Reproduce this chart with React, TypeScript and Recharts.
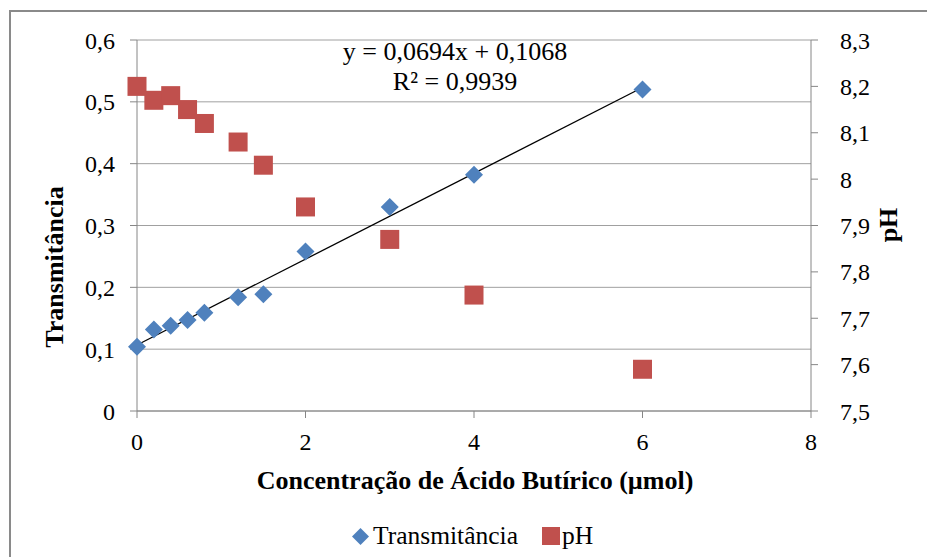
import React from 'react';
import { ScatterChart, Scatter, XAxis, YAxis, CartesianGrid, Legend, ReferenceLine } from 'recharts';

// concentração de ácido butírico (µmol)
const concentracao = [0, 0.2, 0.4, 0.6, 0.8, 1.2, 1.5, 2, 3, 4, 6];
const transmitancia = [0.104, 0.132, 0.138, 0.147, 0.159, 0.184, 0.189, 0.258, 0.33, 0.382, 0.52];
const ph = [8.2, 8.17, 8.18, 8.15, 8.12, 8.08, 8.03, 7.94, 7.87, 7.75, 7.59];

const xTicks = [0, 2, 4, 6, 8];
const leftTicks = [0, 0.1, 0.2, 0.3, 0.4, 0.5, 0.6];
const rightTicks = [7.5, 7.6, 7.7, 7.8, 7.9, 8, 8.1, 8.2, 8.3];

// linear trendline (Excel)
const slope = 0.0694;
const intercept = 0.1068;
const trendFrom = 0;
const trendTo = 6;

const BLUE = '#4f81bd';
const RED = '#c0504d';
const AXIS = '#868686';
const GRID = '#a0a0a0';
const FONT = '"Liberation Serif", "Times New Roman", serif';

const transData = concentracao.map((x, i) => ({ x, y: transmitancia[i] }));
const phData = concentracao.map((x, i) => ({ x, y: ph[i] }));

const fmt = (v: number) => String(Math.round(v * 10) / 10).replace('.', ',');

const Diamond = (props: any) => {
  const { cx, cy } = props;
  const r = 9;
  return <polygon points={`${cx},${cy - r} ${cx + r},${cy} ${cx},${cy + r} ${cx - r},${cy}`} fill={BLUE} />;
};

const Square = (props: any) => {
  const { cx, cy } = props;
  const s = 19;
  return <rect x={cx - s / 2} y={cy - s / 2} width={s} height={s} fill={RED} />;
};

const renderLegend = () => (
  <div style={{ display: 'flex', alignItems: 'center', fontFamily: FONT, fontSize: 25.5, color: '#000', lineHeight: '30px' }}>
    <svg width={17} height={17} style={{ marginRight: 4 }}>
      <polygon points="8.5,0 17,8.5 8.5,17 0,8.5" fill={BLUE} />
    </svg>
    <span>Transmitância</span>
    <svg width={18} height={18} style={{ marginLeft: 24, marginRight: 2 }}>
      <rect x={0} y={0} width={18} height={18} fill={RED} />
    </svg>
    <span>pH</span>
  </div>
);

const tickStyle = { fontFamily: FONT, fontSize: 24, fill: '#000' };

export default function App() {
  return (
    <div style={{ position: 'absolute', left: 0, top: 0, width: 927, height: 557, overflow: 'hidden', background: '#fff' }}>
      <div
        style={{
          position: 'absolute',
          left: 9,
          top: 10,
          width: 940,
          height: 600,
          borderLeft: '2px solid #8a8a8a',
          borderTop: '2px solid #8a8a8a',
        }}
      />
      <ScatterChart width={927} height={557} margin={{ top: 40, right: 0, bottom: 46, left: 0 }}>
        <CartesianGrid yAxisId="left" vertical={false} stroke={GRID} strokeWidth={1} />
        <XAxis
          type="number"
          dataKey="x"
          domain={[0, 8]}
          ticks={xTicks}
          height={100}
          tick={tickStyle}
          tickSize={7}
          tickMargin={15}
          stroke={AXIS}
          tickLine={{ stroke: AXIS }}
        />
        <YAxis
          yAxisId="left"
          type="number"
          dataKey="y"
          domain={[0, 0.6]}
          ticks={leftTicks}
          tickFormatter={fmt}
          width={137}
          tick={tickStyle}
          tickSize={7}
          tickMargin={15}
          stroke={AXIS}
        />
        <YAxis
          yAxisId="right"
          orientation="right"
          type="number"
          dataKey="y"
          domain={[7.5, 8.3]}
          ticks={rightTicks}
          tickFormatter={fmt}
          width={116}
          tick={tickStyle}
          tickSize={7}
          tickMargin={22}
          stroke={AXIS}
        />
        <Scatter name="Transmitância" data={transData} yAxisId="left" shape={Diamond} isAnimationActive={false} />
        <Scatter name="pH" data={phData} yAxisId="right" shape={Square} isAnimationActive={false} />
        <ReferenceLine
          yAxisId="left"
          segment={[
            { x: trendFrom, y: slope * trendFrom + intercept },
            { x: trendTo, y: slope * trendTo + intercept },
          ]}
          stroke="#000"
          strokeWidth={1.3}
        />
        <Legend
          layout="horizontal"
          verticalAlign="middle"
          align="center"
          content={renderLegend}
          wrapperStyle={{ top: 521, left: 352, width: 300 }}
        />
      </ScatterChart>
      <svg width={927} height={557} style={{ position: 'absolute', left: 0, top: 0, pointerEvents: 'none' }}>
        <g fontFamily={FONT} fill="#000">
          <text x={455} y={59.5} fontSize={26} textAnchor="middle">
            y = 0,0694x + 0,1068
          </text>
          <text x={455} y={90} fontSize={26} textAnchor="middle">
            R² = 0,9939
          </text>
          <text x={63} y={267} fontSize={26} fontWeight="bold" textAnchor="middle" transform="rotate(-90 63 267)">
            Transmitância
          </text>
          <text x={897} y={225} fontSize={26} fontWeight="bold" textAnchor="middle" transform="rotate(-90 897 225)">
            pH
          </text>
          <text x={475} y={489} fontSize={26} fontWeight="bold" textAnchor="middle">
            Concentração de Ácido Butírico (µmol)
          </text>
        </g>
      </svg>
    </div>
  );
}
